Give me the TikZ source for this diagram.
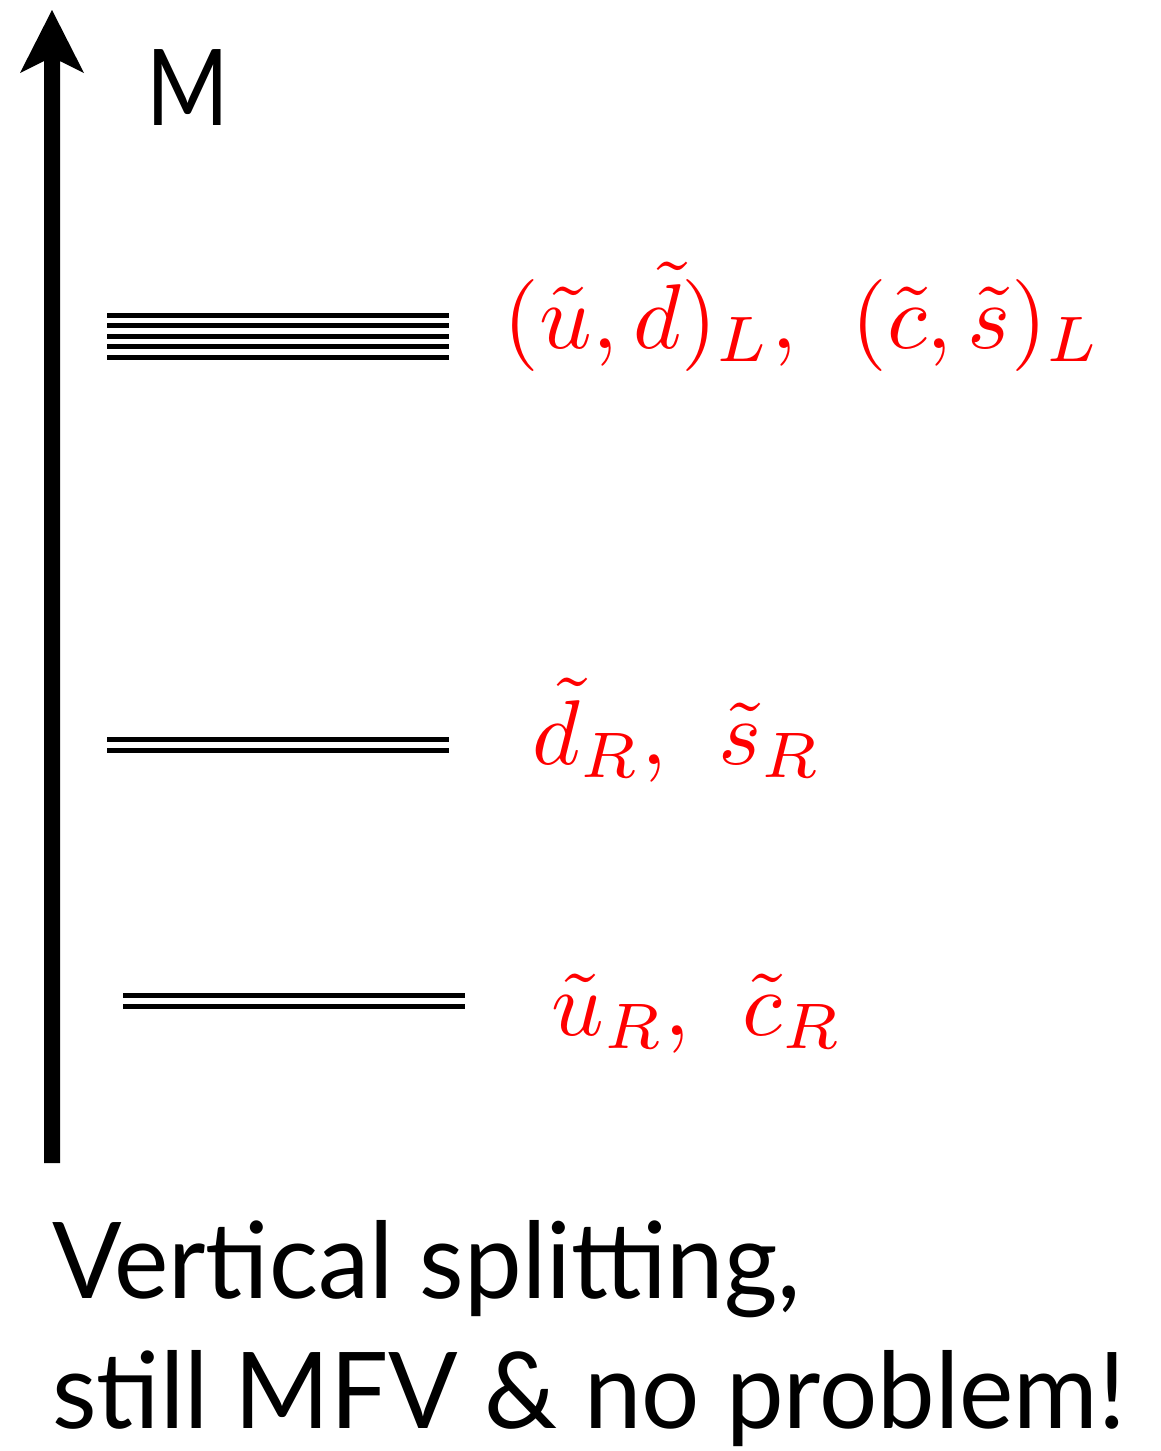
\documentclass[tikz,border=0pt]{standalone}
\usepackage{fontspec}
\setmainfont{Lato}
\begin{document}
\begin{tikzpicture}[x=1pt,y=-1pt,
  level/.style={line width=5pt},
  lbl/.style={text=red,anchor=base west,inner sep=0pt,scale=9.2},
  big/.style={anchor=base west,inner sep=0pt,font=\fontsize{106}{130}\selectfont}]
\useasboundingbox (0,0) rectangle (1160,1451);
% axis arrow
\fill (44,1163) -- (44,61) -- (20,73) -- (52,10) -- (84,73) -- (60,61) -- (60,1163) -- cycle;
\node[big,xscale=0.84] (m) at (146,125) {M};
% levels
\foreach \y in {315,325.6,336.2,346.8,357.4} \draw[level] (107,\y) -- (449,\y);
\foreach \y in {739,750} \draw[level] (107,\y) -- (449,\y);
\foreach \y in {995,1006} \draw[level] (123,\y) -- (465,\y);
% labels
\node[lbl] (l1) at (502,348) {$(\tilde u,\tilde d)_L,\hspace{0.42em}(\tilde c,\tilde s)_L$};
\node[lbl] (l2) at (531,764) {$\tilde d_R,\hspace{0.4em}\tilde s_R$};
\node[lbl] (l3) at (550,1035) {$\tilde u_R,\hspace{0.4em}\tilde c_R$};
% caption
\node[big,xscale=0.97] (t1) at (52,1298) {Vertical splitting,};
\node[big,xscale=0.97] (t2) at (52,1428) {still MFV \& no problem!};
\end{tikzpicture}
\end{document}
